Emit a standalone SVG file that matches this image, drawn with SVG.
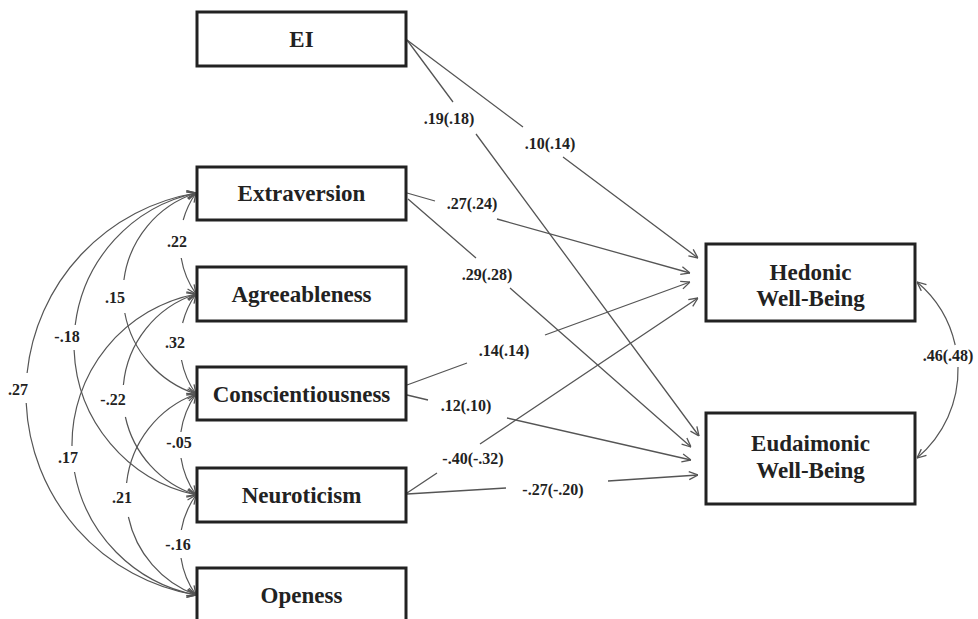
<svg xmlns="http://www.w3.org/2000/svg" width="978" height="619" viewBox="0 0 978 619">
<defs>
<style>
.box{fill:#fff;stroke:#222;stroke-width:3}
.nt{font-weight:bold;font-size:23px;fill:#222;text-anchor:middle}
.lb{font-weight:bold;font-size:16px;fill:#222;text-anchor:middle}
.cn{fill:none;stroke:#555;stroke-width:1.3;marker-end:url(#arr)}
.cv{fill:none;stroke:#555;stroke-width:1.2;marker-end:url(#arr);marker-start:url(#arr)}
</style>
<marker id="arr" viewBox="0 0 10 10" refX="10" refY="5" markerWidth="10" markerHeight="10" markerUnits="userSpaceOnUse" orient="auto-start-reverse">
<path d="M1,1 L10,5 L1,9" fill="none" stroke="#555" stroke-width="1.3"/>
</marker>
</defs>
<rect width="978" height="619" fill="#fff"/>

<g id="connectors">
<path class="cn" d="M407,40 L523,127 M563,157 L698,258"/>
<path class="cn" d="M407,40 L453,102 M476,134 L699,436"/>
<path class="cn" d="M407,193 L435,201 M497,219 L690,273"/>
<path class="cn" d="M408,199 L476,258 M510,288 L691,447"/>
<path class="cn" d="M407,385 L467,363 M545,335 L690,282"/>
<path class="cn" d="M407,395 L428,400 M507,418 L691,460"/>
<path class="cn" d="M407,493 L437,473 M480,444 L698,298"/>
<path class="cn" d="M407,494 L506,488 M608,481 L698,475"/>
<path class="cv" d="M196,193 A87.7,87.7 0 0 0 183.2,220 M181.2,258 A87.7,87.7 0 0 0 196,294"/>
<path class="cv" d="M196,294 A86.1,86.1 0 0 0 182.6,323 M181.5,360 A86.1,86.1 0 0 0 196,394"/>
<path class="cv" d="M196,394 A87.7,87.7 0 0 0 180.9,432 M181,458 A87.7,87.7 0 0 0 196,495"/>
<path class="cv" d="M196,495 A86.1,86.1 0 0 0 181.3,530 M181,558 A86.1,86.1 0 0 0 196,595"/>
<path class="cv" d="M196,193 A105.7,105.7 0 0 0 123.9,280 M124.8,313 A105.7,105.7 0 0 0 196,394"/>
<path class="cv" d="M196,294 A105.7,105.7 0 0 0 123.4,385 M125.4,417 A105.7,105.7 0 0 0 196,495"/>
<path class="cv" d="M196,394 A107.1,107.1 0 0 0 126.6,483 M128.4,517 A107.1,107.1 0 0 0 196,595"/>
<path class="cv" d="M196,193 A154.4,154.4 0 0 0 75.2,325 M74.1,350 A154.4,154.4 0 0 0 196,495"/>
<path class="cv" d="M196,294 A153.3,153.3 0 0 0 72,446 M74.5,472 A153.3,153.3 0 0 0 196,595"/>
<path class="cv" d="M196,193 A203.8,203.8 0 0 0 27.1,373 M26.2,403 A203.8,203.8 0 0 0 196,595"/>
<path class="cv" d="M917,282 A115,115 0 0 1 955.2,345 M958,367 A115,115 0 0 1 917,458"/>
</g>

<g id="labels" font-family="Liberation Serif, Times New Roman, DejaVu Serif, serif">
<text class="lb" x="449" y="124">.19(.18)</text>
<text class="lb" x="550" y="149">.10(.14)</text>
<text class="lb" x="472" y="209">.27(.24)</text>
<text class="lb" x="487" y="280">.29(.28)</text>
<text class="lb" x="504" y="356">.14(.14)</text>
<text class="lb" x="466" y="411">.12(.10)</text>
<text class="lb" x="473" y="464">-.40(-.32)</text>
<text class="lb" x="553" y="495">-.27(-.20)</text>
<text class="lb" x="948" y="361">.46(.48)</text>
<text class="lb" x="177" y="247">.22</text>
<text class="lb" x="175" y="348">.32</text>
<text class="lb" x="179" y="448">-.05</text>
<text class="lb" x="178" y="550">-.16</text>
<text class="lb" x="115" y="303">.15</text>
<text class="lb" x="113" y="405">-.22</text>
<text class="lb" x="122" y="503">.21</text>
<text class="lb" x="67" y="342">-.18</text>
<text class="lb" x="68" y="463">.17</text>
<text class="lb" x="18" y="395">.27</text>
</g>

<g id="nodes" font-family="Liberation Serif, Times New Roman, DejaVu Serif, serif">
<g id="EI"><rect class="box" x="197" y="12" width="209" height="54"/><text class="nt" x="301.5" y="47">EI</text></g>
<g id="Extraversion"><rect class="box" x="197" y="167" width="209" height="53"/><text class="nt" x="301.5" y="201">Extraversion</text></g>
<g id="Agreeableness"><rect class="box" x="197" y="267" width="209" height="54"/><text class="nt" x="301.5" y="302">Agreeableness</text></g>
<g id="Conscientiousness"><rect class="box" x="197" y="367" width="209" height="53"/><text class="nt" x="301.5" y="402">Conscientiousness</text></g>
<g id="Neuroticism"><rect class="box" x="197" y="468" width="209" height="54"/><text class="nt" x="301.5" y="503">Neuroticism</text></g>
<g id="Openess"><rect class="box" x="197" y="568" width="209" height="60"/><text class="nt" x="301.5" y="603">Openess</text></g>
<g id="Hedonic"><rect class="box" x="706" y="244" width="209" height="77"/><text class="nt" x="810.5" y="280">Hedonic</text><text class="nt" x="810.5" y="306">Well-Being</text></g>
<g id="Eudaimonic"><rect class="box" x="706" y="413" width="209" height="91"/><text class="nt" x="810.5" y="451">Eudaimonic</text><text class="nt" x="810.5" y="478">Well-Being</text></g>
</g>
</svg>
